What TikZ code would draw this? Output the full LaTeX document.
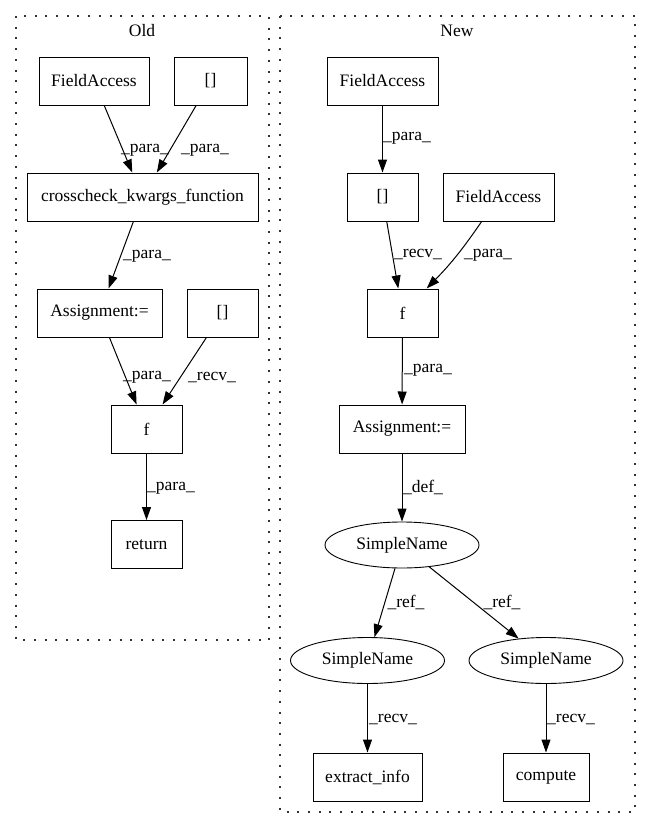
\documentclass[tikz,border=0pt]{standalone}
\usepackage{fontspec}
\setmainfont{Liberation Serif}
\usetikzlibrary{arrows.meta,shapes.geometric}

\begin{document}
\begin{tikzpicture}[x=1pt, y=-1pt, font=\fontsize{17.5}{20}\selectfont,
    >={Triangle[length=13pt,width=9pt]},
    box/.style={draw, line width=1pt, inner sep=0pt, minimum height=48pt},
    oval/.style={draw, ellipse, line width=0.9pt, inner sep=0pt, minimum width=154pt, minimum height=46pt},
    lbl/.style={inner sep=0pt},
    cluster/.style={line width=1.5pt, dash pattern=on 2pt off 8.7pt, black!80},
    link/.style={->, line width=1pt}]
            \useasboundingbox (0, 0) rectangle (651, 828);

            \draw[cluster] (16, 16) rectangle (269, 640);
            \node (old) at (142, 31) {Old};
            \draw[cluster] (280, 16) rectangle (635, 812);
            \node (new) at (457, 31) {New};

            \node[box, minimum width=110pt] (ofa) at (94, 81) {FieldAccess};
            \node[box, minimum width=73pt] (oarr1) at (210.5, 81) {[]};
            \node[box, minimum width=231pt] (ocheck) at (142.5, 197) {crosscheck\_kwargs\_function};
            \node[box, minimum width=125pt] (oassign) at (99.5, 313) {Assignment:=};
            \node[box, minimum width=71pt] (oarr2) at (222.5, 313) {[]};
            \node[box, minimum width=71pt] (of) at (146.5, 429) {f};
            \node[box, minimum width=71pt] (oret) at (146.5, 544.5) {return};

            \node[box, minimum width=111pt] (nfa1) at (382.5, 81) {FieldAccess};
            \node[box, minimum width=71pt] (narr) at (382.5, 197) {[]};
            \node[box, minimum width=111pt] (nfa2) at (498.5, 197) {FieldAccess};
            \node[box, minimum width=71pt] (nf) at (402.5, 313) {f};
            \node[box, minimum width=126pt] (nassign) at (402, 429) {Assignment:=};
            \node[oval] (nsn) at (402, 545) {SimpleName};
            \node[oval] (nsnl) at (367.5, 660.5) {SimpleName};
            \node[oval] (nsnr) at (546, 660.5) {SimpleName};
            \node[box, minimum width=109pt] (nextract) at (367.5, 777) {extract\_info};
            \node[box, minimum width=86pt] (ncompute) at (546, 777) {compute};

            \draw[link] (ofa) to (ocheck);
            \draw[link] (oarr1) to (ocheck);
            \draw[link] (ocheck) to (oassign);
            \draw[link] (oassign) to (of);
            \draw[link] (oarr2) to (of);
            \draw[link] (of) to (oret);

            \draw[link] (nfa1) to (narr);
            \draw[link] (narr) to (nf);
            \draw[link] (nfa2) to[bend left=5] (nf);
            \draw[link] (nf) to (nassign);
            \draw[link] (nassign) to (nsn);
            \draw[link] (nsn) to (nsnl);
            \draw[link] (nsn) to (nsnr);
            \draw[link] (nsnl) to (nextract);
            \draw[link] (nsnr) to (ncompute);

            \node[lbl] (l1) at (145, 150) {\_para\_};
            \node[lbl] (l2) at (205, 150) {\_para\_};
            \node[lbl] (l3) at (147, 256) {\_para\_};
            \node[lbl] (l4) at (147, 377) {\_para\_};
            \node[lbl] (l5) at (212, 377) {\_recv\_};
            \node[lbl] (l6) at (171, 488) {\_para\_};

            \node[lbl] (l7) at (407, 138) {\_para\_};
            \node[lbl] (l8) at (418, 255) {\_recv\_};
            \node[lbl] (l9) at (488, 255) {\_para\_};
            \node[lbl] (l10) at (428, 370) {\_para\_};
            \node[lbl] (l11) at (423, 487) {\_def\_};
            \node[lbl] (l12) at (406, 602) {\_ref\_};
            \node[lbl] (l13) at (502, 602) {\_ref\_};
            \node[lbl] (l14) at (393, 719) {\_recv\_};
            \node[lbl] (l15) at (571, 719) {\_recv\_};
        \end{tikzpicture}
\end{document}
